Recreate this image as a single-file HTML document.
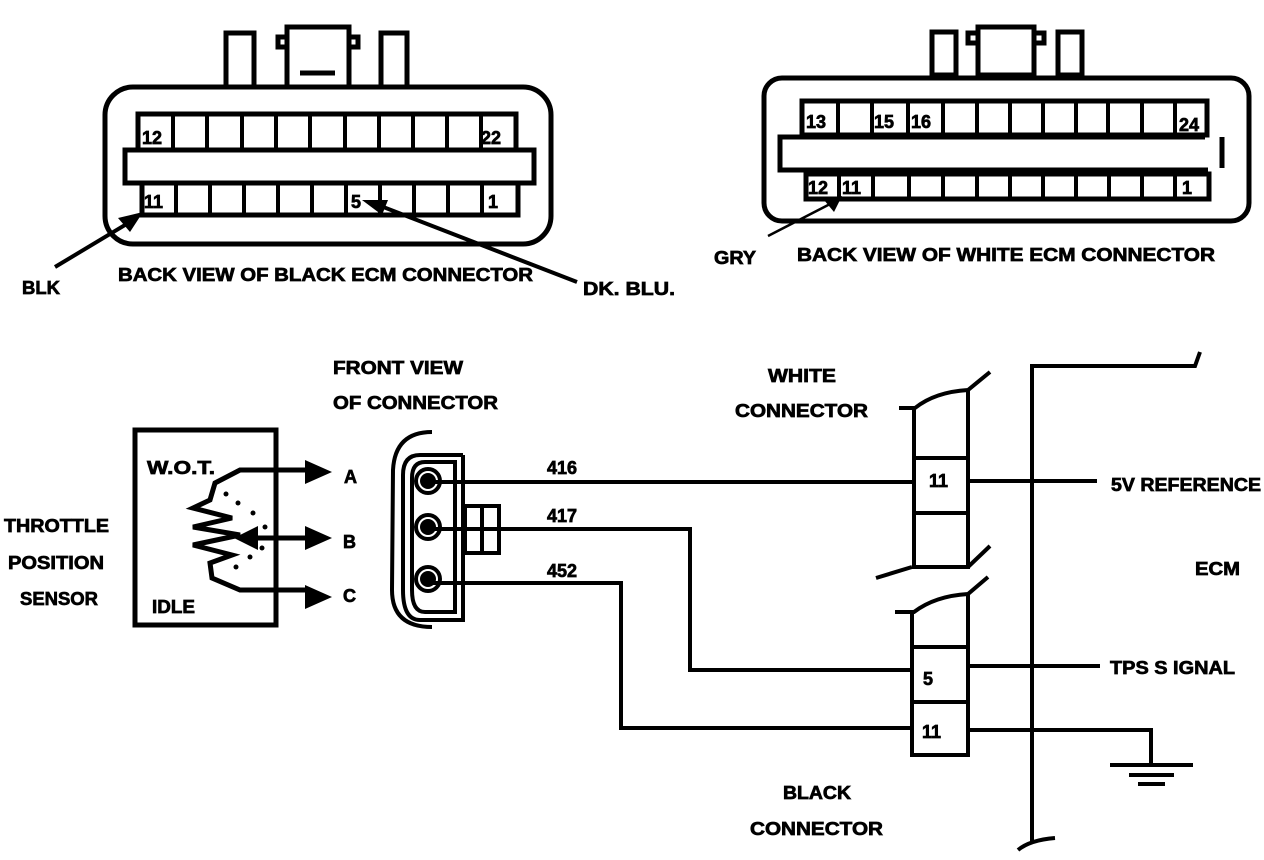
<!DOCTYPE html>
<html><head><meta charset="utf-8"><style>
html,body{margin:0;padding:0;background:#fff;}
svg{display:block}
text{font-family:"Liberation Sans",sans-serif;font-weight:bold;font-size:18px;fill:#000;stroke:#000;stroke-width:0.7}
</style></head><body>
<svg width="1264" height="860" viewBox="0 0 1264 860" xmlns="http://www.w3.org/2000/svg">
<g fill="none" stroke="#000" stroke-width="5">
<rect x="105" y="87" width="446" height="157" rx="28"/>
<rect x="226" y="33" width="28" height="54"/>
<rect x="287" y="27" width="62" height="60"/>
<path d="M287 37 H278 V47 H287 M349 37 H358 V47 H349"/>
<line x1="300" y1="73" x2="335" y2="73"/>
<rect x="381" y="33" width="26" height="54"/>
<rect x="138" y="114" width="378" height="36"/>
<rect x="125" y="150" width="409" height="33"/>
<rect x="142" y="183" width="376" height="32"/>
</g>
<g stroke="#000" stroke-width="4">
<line x1="173" y1="114" x2="173" y2="150"/><line x1="207" y1="114" x2="207" y2="150"/><line x1="242" y1="114" x2="242" y2="150"/><line x1="276" y1="114" x2="276" y2="150"/><line x1="310" y1="114" x2="310" y2="150"/><line x1="345" y1="114" x2="345" y2="150"/><line x1="379" y1="114" x2="379" y2="150"/><line x1="413" y1="114" x2="413" y2="150"/><line x1="447" y1="114" x2="447" y2="150"/><line x1="481" y1="114" x2="481" y2="150"/>
<line x1="176" y1="183" x2="176" y2="215"/><line x1="210" y1="183" x2="210" y2="215"/><line x1="244" y1="183" x2="244" y2="215"/><line x1="278" y1="183" x2="278" y2="215"/><line x1="312" y1="183" x2="312" y2="215"/><line x1="346" y1="183" x2="346" y2="215"/><line x1="380" y1="183" x2="380" y2="215"/><line x1="414" y1="183" x2="414" y2="215"/><line x1="448" y1="183" x2="448" y2="215"/><line x1="482" y1="183" x2="482" y2="215"/>
<line x1="55" y1="267" x2="130" y2="222"/>
<line x1="577" y1="282" x2="378" y2="205"/>
</g>
<polygon points="143,212 118,218 130,232"/>
<polygon points="362,200 388,200 382,215"/>
<text x="142" y="144">12</text><text x="481" y="144">22</text>
<text x="144" y="208">11</text><text x="351" y="208">5</text><text x="488" y="208">1</text>
<text x="118" y="281" textLength="415" lengthAdjust="spacingAndGlyphs">BACK VIEW OF BLACK ECM CONNECTOR</text>
<text x="22" y="294" textLength="38" lengthAdjust="spacingAndGlyphs">BLK</text>
<text x="583" y="295" textLength="92" lengthAdjust="spacingAndGlyphs">DK. BLU.</text>

<g fill="none" stroke="#000" stroke-width="5">
<rect x="764" y="78" width="485" height="143" rx="18"/>
<rect x="932" y="32" width="24" height="43"/>
<rect x="978" y="27" width="56" height="48"/>
<path d="M978 33 H968 V43 H978 M1034 33 H1044 V43 H1034"/>
<rect x="1058" y="32" width="24" height="43"/>
<rect x="802" y="101" width="405" height="34"/>
<path d="M1205 137 H780 V170 H1208 M1222 137 V168"/>
<rect x="806" y="174" width="403" height="25"/>
</g>
<g stroke="#000" stroke-width="4">
<line x1="838" y1="101" x2="838" y2="135"/><line x1="872" y1="101" x2="872" y2="135"/><line x1="908" y1="101" x2="908" y2="135"/><line x1="943" y1="101" x2="943" y2="135"/><line x1="977" y1="101" x2="977" y2="135"/><line x1="1010" y1="101" x2="1010" y2="135"/><line x1="1043" y1="101" x2="1043" y2="135"/><line x1="1076" y1="101" x2="1076" y2="135"/><line x1="1108" y1="101" x2="1108" y2="135"/><line x1="1142" y1="101" x2="1142" y2="135"/><line x1="1175" y1="101" x2="1175" y2="135"/>
<line x1="839" y1="174" x2="839" y2="199"/><line x1="873" y1="174" x2="873" y2="199"/><line x1="909" y1="174" x2="909" y2="199"/><line x1="943" y1="174" x2="943" y2="199"/><line x1="977" y1="174" x2="977" y2="199"/><line x1="1010" y1="174" x2="1010" y2="199"/><line x1="1043" y1="174" x2="1043" y2="199"/><line x1="1076" y1="174" x2="1076" y2="199"/><line x1="1109" y1="174" x2="1109" y2="199"/><line x1="1142" y1="174" x2="1142" y2="199"/><line x1="1175" y1="174" x2="1175" y2="199"/>
</g>
<line x1="768" y1="236" x2="832" y2="203" stroke="#000" stroke-width="2.5"/>
<polygon points="842,196 824,200 834,212"/>
<text x="806" y="128">13</text><text x="874" y="128">15</text><text x="911" y="128">16</text><text x="1179" y="131">24</text>
<text x="808" y="194">12</text><text x="842" y="194">11</text><text x="1182" y="194">1</text>
<text x="797" y="261" textLength="418" lengthAdjust="spacingAndGlyphs">BACK VIEW OF WHITE ECM CONNECTOR</text>
<text x="714" y="264" textLength="42" lengthAdjust="spacingAndGlyphs">GRY</text>

<rect x="135" y="430" width="141" height="195" fill="none" stroke="#000" stroke-width="5"/>
<text x="147" y="474" textLength="68" lengthAdjust="spacingAndGlyphs">W.O.T.</text>
<text x="152" y="613" textLength="43" lengthAdjust="spacingAndGlyphs">IDLE</text>
<text x="4" y="532" textLength="105" lengthAdjust="spacingAndGlyphs">THROTTLE</text>
<text x="8" y="569" textLength="96" lengthAdjust="spacingAndGlyphs">POSITION</text>
<text x="20" y="605" textLength="78" lengthAdjust="spacingAndGlyphs">SENSOR</text>
<g fill="none" stroke="#000" stroke-width="5">
<path d="M310 470 H240 L215 483 L210 500 L193 508 L232 518 L193 527 L240 535 L193 545 L232 555 L210 563 L212 578 L240 590 H310"/>
<line x1="255" y1="538" x2="310" y2="538"/>
</g>
<polygon points="305,460 332,472 305,484"/>
<polygon points="305,526 332,538 305,550"/>
<polygon points="305,585 332,597 305,609"/>
<polygon points="234,538 258,526 258,550"/>
<g fill="#000"><circle cx="226" cy="494" r="2.5"/><circle cx="238" cy="503" r="2.5"/><circle cx="253" cy="513" r="2.5"/><circle cx="265" cy="527" r="2.5"/><circle cx="262" cy="548" r="2.5"/><circle cx="250" cy="557" r="2.5"/><circle cx="236" cy="567" r="2.5"/></g>
<text x="344" y="483" font-size="21">A</text><text x="343" y="548" font-size="21">B</text><text x="343" y="602" font-size="21">C</text>

<g fill="none" stroke="#000" stroke-width="4">
<path d="M432 432 Q395 432 393 470 L392 590 Q392 627 432 627"/>
<path d="M463 455 H420 Q403 455 403 475 V590 Q403 620 420 620 H463 V455"/>
<path d="M455 462 H425 Q412 462 412 478 V590 Q412 612 425 612 H455 Z"/>
<circle cx="428" cy="481" r="12"/><circle cx="428" cy="527" r="12"/><circle cx="428" cy="579" r="12"/>
<rect x="465" y="506" width="34" height="47"/>
<line x1="482" y1="506" x2="482" y2="553"/>
</g>
<g fill="#000"><circle cx="428" cy="481" r="8"/><circle cx="428" cy="527" r="8"/><circle cx="428" cy="579" r="8"/></g>
<text x="333" y="374" textLength="130" lengthAdjust="spacingAndGlyphs">FRONT VIEW</text>
<text x="333" y="409" textLength="165" lengthAdjust="spacingAndGlyphs">OF CONNECTOR</text>

<g fill="none" stroke="#000" stroke-width="4">
<path d="M430 482 H912"/>
<path d="M430 529 H690 V670 H912"/>
<path d="M430 583 H621 V728 H912"/>
</g>
<text x="547" y="474">416</text><text x="547" y="522">417</text><text x="547" y="577">452</text>

<g fill="none" stroke="#000" stroke-width="4">
<path d="M899 408 H915 Q935 392 968 390 L990 372"/>
<path d="M914 408 V567 H968 V390"/>
<path d="M876 578 L912 567"/><path d="M968 567 L990 546"/>
<line x1="914" y1="458" x2="968" y2="458"/><line x1="914" y1="513" x2="968" y2="513"/>
<path d="M895 612 H914 Q935 596 968 594 L988 577"/>
<path d="M912 612 V755 H968 V594"/>
<line x1="912" y1="647" x2="968" y2="647"/><line x1="912" y1="702" x2="968" y2="702"/>
<path d="M968 481 H1097"/><path d="M968 666 H1100"/>
<path d="M968 730 H1151 V765"/>
<path d="M1032 842 V366 H1195 L1200 352"/>
<path d="M1018 850 Q1030 840 1055 838"/>
</g>
<g stroke="#000" stroke-width="4"><line x1="1110" y1="765" x2="1193" y2="765"/><line x1="1129" y1="775" x2="1174" y2="775"/><line x1="1138" y1="784" x2="1165" y2="784"/></g>
<text x="929" y="487">11</text><text x="923" y="685">5</text><text x="922" y="738">11</text>
<text x="768" y="382" textLength="68" lengthAdjust="spacingAndGlyphs">WHITE</text>
<text x="735" y="417" textLength="133" lengthAdjust="spacingAndGlyphs">CONNECTOR</text>
<text x="783" y="799" textLength="68" lengthAdjust="spacingAndGlyphs">BLACK</text>
<text x="750" y="835" textLength="133" lengthAdjust="spacingAndGlyphs">CONNECTOR</text>
<text x="1111" y="491" textLength="150" lengthAdjust="spacingAndGlyphs">5V REFERENCE</text>
<text x="1195" y="575" textLength="45" lengthAdjust="spacingAndGlyphs">ECM</text>
<text x="1110" y="674" textLength="125" lengthAdjust="spacingAndGlyphs">TPS S IGNAL</text>
</svg>
</body></html>
